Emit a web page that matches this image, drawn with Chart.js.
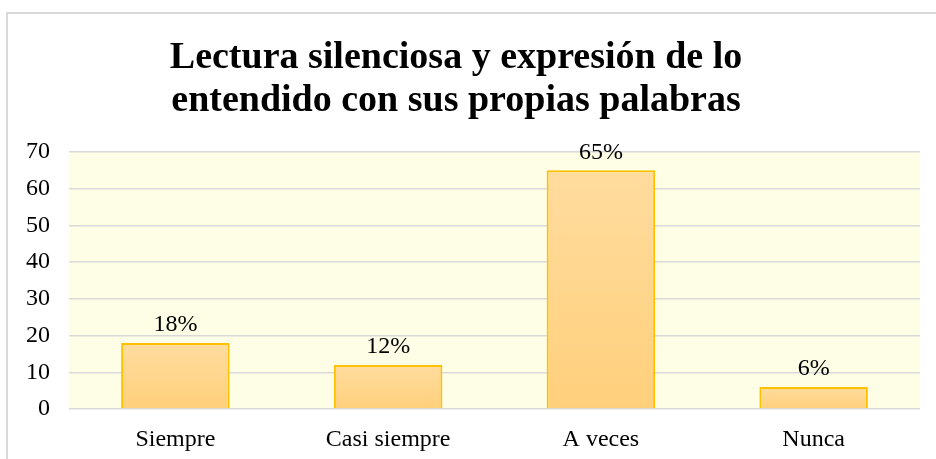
<!DOCTYPE html>
<html>
<head>
<meta charset="utf-8">
<script src="https://cdn.jsdelivr.net/npm/chart.js@4"></script>
<style>
  html, body { margin: 0; padding: 0; background: #fff; }
  #wrap { position: relative; width: 936px; height: 459px; }
</style>
</head>
<body>
<div id="wrap"><canvas id="chart" width="936" height="459"></canvas></div>
<script>
const categories = ['Siempre', 'Casi siempre', 'A veces', 'Nunca'];
const values = [18, 12, 65, 6];
const titleLines = ['Lectura silenciosa y expresión de lo', 'entendido con sus propias palabras'];
const yTicks = [0, 10, 20, 30, 40, 50, 60, 70];

const serif = "'Liberation Serif', 'Times New Roman', serif";

// frame, plot background and title
const decorPlugin = {
  id: 'decor',
  beforeDraw(chart) {
    const ctx = chart.ctx;
    const a = chart.chartArea;
    ctx.save();
    ctx.strokeStyle = '#d9d9d9';
    ctx.lineWidth = 2;
    ctx.beginPath();
    ctx.moveTo(7, 459);
    ctx.lineTo(7, 13);
    ctx.lineTo(936, 13);
    ctx.stroke();
    ctx.fillStyle = '#fefde6';
    ctx.fillRect(a.left, a.top, a.right - a.left, a.bottom - a.top);
    ctx.fillStyle = '#000';
    ctx.font = 'bold 38px ' + serif;
    ctx.textAlign = 'center';
    ctx.textBaseline = 'middle';
    titleLines.forEach((t, i) => ctx.fillText(t, 456, 58 + i * 43));
    ctx.restore();
  },
  afterDatasetsDraw(chart) {
    const ctx = chart.ctx;
    const meta = chart.getDatasetMeta(0);
    ctx.save();
    ctx.fillStyle = '#000';
    ctx.font = '24px ' + serif;
    ctx.textAlign = 'center';
    ctx.textBaseline = 'middle';
    meta.data.forEach((bar, i) => {
      ctx.fillText(values[i] + '%', bar.x, bar.y - 18);
    });
    ctx.restore();
  }
};

const ctx = document.getElementById('chart');

// gradient per bar, light at the top, deeper at the base
function barGradient(context) {
  const chart = context.chart;
  const y = chart.scales && chart.scales.y;
  if (!chart.chartArea || !y || context.raw == null) return '#ffd68c';
  const top = y.getPixelForValue(context.raw);
  const base = y.getPixelForValue(0);
  const g = chart.ctx.createLinearGradient(0, top, 0, base);
  g.addColorStop(0, '#ffdc9e');
  g.addColorStop(1, '#ffd07c');
  return g;
}

new Chart(ctx, {
  type: 'bar',
  data: {
    labels: categories,
    datasets: [{
      data: values,
      backgroundColor: barGradient,
      borderColor: '#ffc000',
      borderWidth: 2,
      barPercentage: 0.51,
      categoryPercentage: 1
    }]
  },
  options: {
    responsive: false,
    animation: false,
    layout: { padding: { top: 152, right: 16, left: 0, bottom: 0 } },
    plugins: {
      legend: { display: false },
      title: { display: false },
      tooltip: { enabled: false }
    },
    scales: {
      x: {
        grid: { display: false },
        border: { display: false },
        ticks: { color: '#000', font: { family: serif, size: 24 }, padding: 8 },
        afterFit: s => { s.height = 50; }
      },
      y: {
        min: 0,
        max: 70,
        afterBuildTicks: s => { s.ticks = yTicks.map(v => ({ value: v })); },
        grid: { color: '#d9d9d9', lineWidth: 1.5, drawTicks: false },
        border: { display: false },
        ticks: { color: '#000', font: { family: serif, size: 24 }, padding: 19 },
        afterFit: s => { s.width = 69; }
      }
    }
  },
  plugins: [decorPlugin]
});
</script>
</body>
</html>
